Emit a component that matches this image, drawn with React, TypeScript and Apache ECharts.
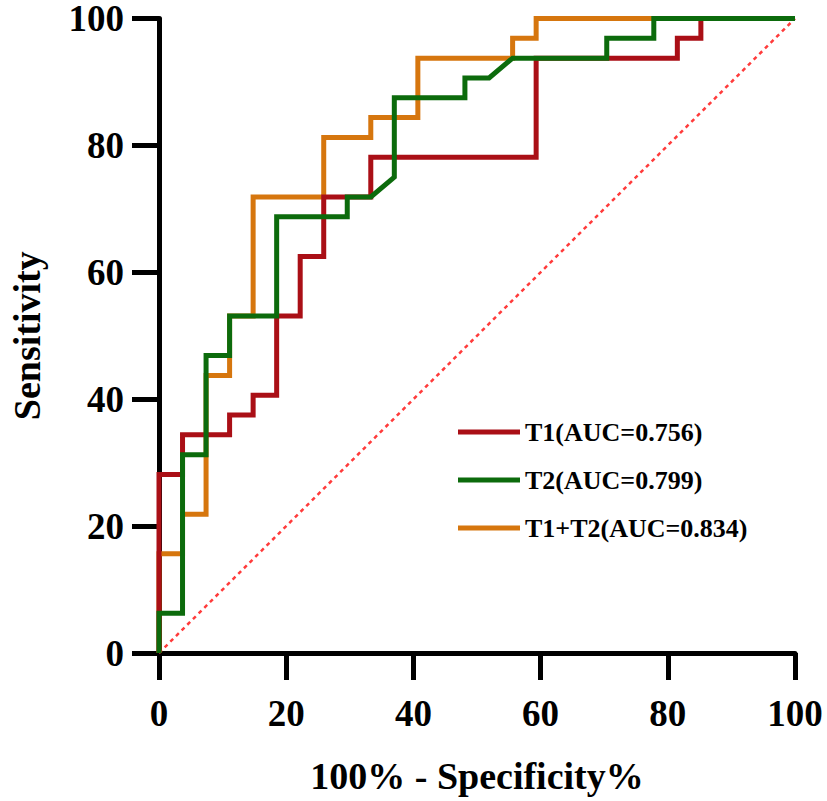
import React, { useEffect, useRef } from "react";
import * as echarts from "echarts";

// ROC curve corner points (x = 100% - Specificity%, y = Sensitivity %)
const t1X = [0, 0, 3.7, 3.7, 11.1, 11.1, 14.8, 14.8, 18.5, 18.5, 22.2, 22.2, 25.9, 25.9, 33.3, 33.3, 59.3, 59.3, 81.5, 81.5, 85.2, 85.2, 100];
const t1Y = [0, 28.13, 28.13, 34.38, 34.38, 37.5, 37.5, 40.63, 40.63, 53.13, 53.13, 62.5, 62.5, 71.88, 71.88, 78.13, 78.13, 93.75, 93.75, 96.88, 96.88, 100, 100];

const t2X = [0, 0, 3.7, 3.7, 7.4, 7.4, 11.1, 11.1, 18.5, 18.5, 29.6, 29.6, 33.3, 37.0, 37.0, 48.1, 48.1, 51.9, 55.6, 70.4, 70.4, 77.8, 77.8, 100];
const t2Y = [0, 6.25, 6.25, 31.25, 31.25, 46.88, 46.88, 53.13, 53.13, 68.75, 68.75, 71.88, 71.88, 75.0, 87.5, 87.5, 90.63, 90.63, 93.75, 93.75, 96.88, 96.88, 100, 100];

const t12X = [0, 0, 3.7, 3.7, 7.4, 7.4, 11.1, 11.1, 14.8, 14.8, 25.9, 25.9, 33.3, 33.3, 40.7, 40.7, 55.6, 55.6, 59.3, 59.3, 100];
const t12Y = [0, 15.63, 15.63, 21.88, 21.88, 43.75, 43.75, 53.13, 53.13, 71.88, 71.88, 81.25, 81.25, 84.38, 84.38, 93.75, 93.75, 96.88, 96.88, 100, 100];

const refX = [0, 100];
const refY = [0, 100];

const seriesNames = ["T1(AUC=0.756)", "T2(AUC=0.799)", "T1+T2(AUC=0.834)"];
const axisTicks = [0, 20, 40, 60, 80, 100];
const xTitle = "100% - Specificity%";
const yTitle = "Sensitivity";

const RED = "#AA0F16";
const GREEN = "#0C6B0C";
const ORANGE = "#D6760E";
const FONT = "'Liberation Serif', 'Times New Roman', serif";

const zip = (xs: number[], ys: number[]) => xs.map((x, i) => [x, ys[i]]);

export default function App() {
  const ref = useRef<HTMLDivElement>(null);
  useEffect(() => {
    document.body.style.margin = "0";
    const chart = echarts.init(ref.current!, undefined, { renderer: "svg" });
    const axisCommon = {
      type: "value" as const,
      min: axisTicks[0],
      max: axisTicks[axisTicks.length - 1],
      interval: axisTicks[1] - axisTicks[0],
      splitLine: { show: false },
      axisLine: { show: true, lineStyle: { color: "#000", width: 5 } },
      axisTick: { show: true, length: 27, lineStyle: { color: "#000", width: 5 } },
      nameLocation: "middle" as const,
      nameTextStyle: { fontFamily: FONT, fontWeight: "bold", fontSize: 38, color: "#000" },
    };
    const labelStyle = { fontFamily: FONT, fontWeight: "bold", fontSize: 37, lineHeight: 30, color: "#000" };
    const lineSeries = (name: string, data: number[][], color: string) => ({
      name,
      type: "line",
      data,
      showSymbol: false,
      symbol: "none",
      clip: false,
      color,
      lineStyle: { color, width: 5, join: "miter", cap: "butt" },
    });
    chart.setOption({
      animation: false,
      backgroundColor: "#fff",
      grid: { left: 153, right: 32, top: 15, bottom: 148, containLabel: false },
      xAxis: {
        ...axisCommon,
        name: xTitle,
        nameGap: 104,
        axisLabel: { ...labelStyle, margin: 45 },
      },
      yAxis: {
        ...axisCommon,
        name: yTitle,
        nameGap: 113,
        axisLabel: { ...labelStyle, margin: 35 },
      },
      legend: {
        orient: "vertical",
        left: 458,
        top: 408,
        padding: 0,
        itemGap: 0,
        itemWidth: 62,
        itemHeight: 5,
        icon: "rect",
        data: seriesNames,
        textStyle: { fontFamily: FONT, fontWeight: "bold", fontSize: 26, color: "#000", lineHeight: 48 },
      },
      series: [
        {
          name: "ref",
          type: "line",
          data: zip(refX, refY),
          symbol: "none",
          clip: false,
          lineStyle: { color: "#FF3B3B", width: 2.5, type: [4, 4] },
        },
        lineSeries(seriesNames[2], zip(t12X, t12Y), ORANGE),
        lineSeries(seriesNames[0], zip(t1X, t1Y), RED),
        lineSeries(seriesNames[1], zip(t2X, t2Y), GREEN),
      ],
    });
    return () => chart.dispose();
  }, []);
  return <div ref={ref} style={{ width: 827, height: 801 }} />;
}
